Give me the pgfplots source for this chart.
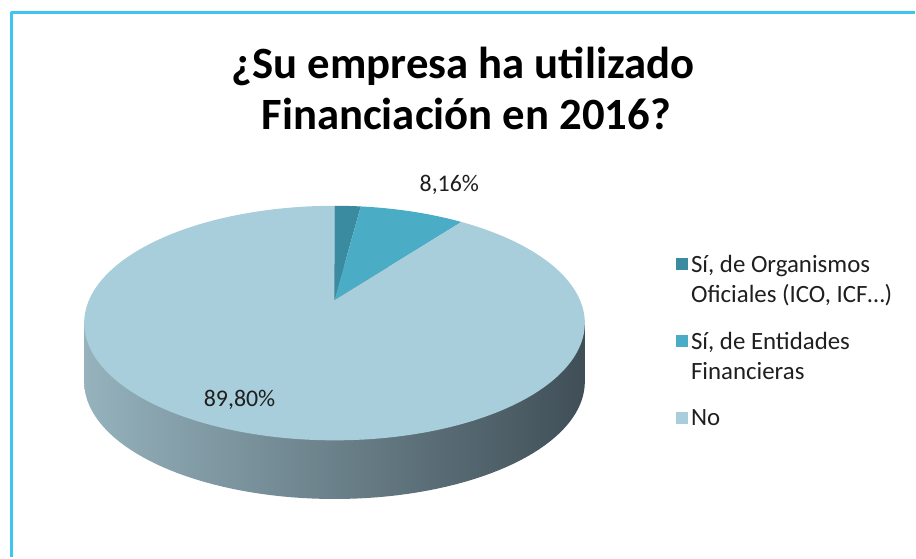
\documentclass[border=0pt]{standalone}
\usepackage{fontspec}
\setmainfont{Carlito}
\usepackage{pgfplots}
\pgfplotsset{compat=1.18}
\usepackage{pgfplotstable}
\definecolor{cDark}{HTML}{3A8AA0}
\definecolor{cMed}{HTML}{4BACC6}
\definecolor{cLight}{HTML}{A8CDDB}
\definecolor{frameblue}{HTML}{40C4F2}
\definecolor{sideL}{HTML}{95B2BD}
\definecolor{sideM}{HTML}{5F747D}
\definecolor{sideR}{HTML}{404F57}
\definecolor{txt}{HTML}{1F1F1F}

\pgfplotstableread[col sep=comma]{
label,value
OrgOf,2.04
EntFin,8.16
No,89.80
}\piedata
\pgfplotstablegetelem{0}{value}\of\piedata \let\vA\pgfplotsretval
\pgfplotstablegetelem{1}{value}\of\piedata \let\vB\pgfplotsretval
\pgfplotstablegetelem{2}{value}\of\piedata \let\vC\pgfplotsretval
\pgfmathsetmacro{\angA}{3.6*\vA}
\pgfmathsetmacro{\angB}{3.6*(\vA+\vB)}
\pgfmathsetmacro{\angC}{3.6*(\vA+\vB+\vC)}
% pie geometry (pixels): apex, radii, perspective, thickness
\def\cx{336.5}\def\cy{302}\def\ra{247}\def\rb{113.5}\def\pe{0.195}\def\th{59}
\pgfmathsetmacro{\xL}{\cx-\ra*sqrt(1-\pe*\pe)/(1-\pe*\pe)}
\pgfmathsetmacro{\xR}{\cx+\ra*sqrt(1-\pe*\pe)/(1-\pe*\pe)}
\pgfmathsetmacro{\yE}{\cy+\rb*\pe/(1-\pe*\pe)}
\pgfmathsetmacro{\yEb}{\yE+\th}

\begin{document}
\begin{tikzpicture}
\begin{axis}[
  width=916pt, height=556pt, scale only axis,
  xmin=0, xmax=916, ymin=0, ymax=556, y dir=reverse,
  hide axis, clip=false,
  declare function={
    rx(\t)=\cx+\ra*sin(\t)/(1+\pe*cos(\t));
    ry(\t)=\cy-\rb*cos(\t)/(1+\pe*cos(\t));
  },
  legend style={at={(axis cs:677,254)}, anchor=north west, draw=none, fill=none,
    text=txt, font=\fontsize{25}{30.5}\selectfont, row sep=28pt,
    cells={anchor=north west}, nodes={align=left, inner sep=0pt}},
  legend image code/.code={\fill[#1] (0pt,-3pt) rectangle (12pt,-15pt); \path (0pt,-3pt) (15pt,-3pt);},
]
\path (rel axis cs:0,0) rectangle (rel axis cs:1,1);
% frame
\draw[frameblue, line width=3pt, line join=round] (axis cs:12,560) -- (axis cs:12,13) -- (axis cs:920,13);

% side of the pie
\addplot[draw=none, left color=sideL, middle color=sideM, right color=sideR, forget plot,
  domain=0:360, samples=181, variable=\t] ({rx(\t)},{ry(\t)+\th});
\fill[left color=sideL, middle color=sideM, right color=sideR]
  (axis cs:\xL,\yE) rectangle (axis cs:\xR,\yEb);

% top slices
\addplot[fill=cDark, draw=none, domain=0:\angA, samples=8, variable=\t]
  ({rx(\t)},{ry(\t)}) -- (axis cs:\cx,\cy) -- cycle;
\addlegendentry{Sí, de Organismos\\Oficiales (ICO, ICF…)}
\addplot[fill=cMed, draw=none, domain=\angA:\angB, samples=20, variable=\t]
  ({rx(\t)},{ry(\t)}) -- (axis cs:\cx,\cy) -- cycle;
\addlegendentry{Sí, de Entidades\\Financieras}
\addplot[fill=cLight, draw=none, domain=\angB:\angC, samples=200, variable=\t]
  ({rx(\t)},{ry(\t)}) -- (axis cs:\cx,\cy) -- cycle;
\addlegendentry{No}

% data labels
\node[font=\fontsize{24}{29}\selectfont, text=txt, anchor=base] at (axis cs:452,193) {8,16\%};
\node[font=\fontsize{24}{29}\selectfont, text=txt, anchor=base] at (axis cs:241,409) {89,80\%};

% title
\node[font=\fontsize{45}{53}\selectfont\bfseries, text=black, anchor=base] at (axis cs:466,79) {¿Su empresa ha utilizado};
\node[font=\fontsize{45}{53}\selectfont\bfseries, text=black, anchor=base] at (axis cs:469,130) {Financiación en 2016?};
\end{axis}
\end{tikzpicture}
\end{document}
